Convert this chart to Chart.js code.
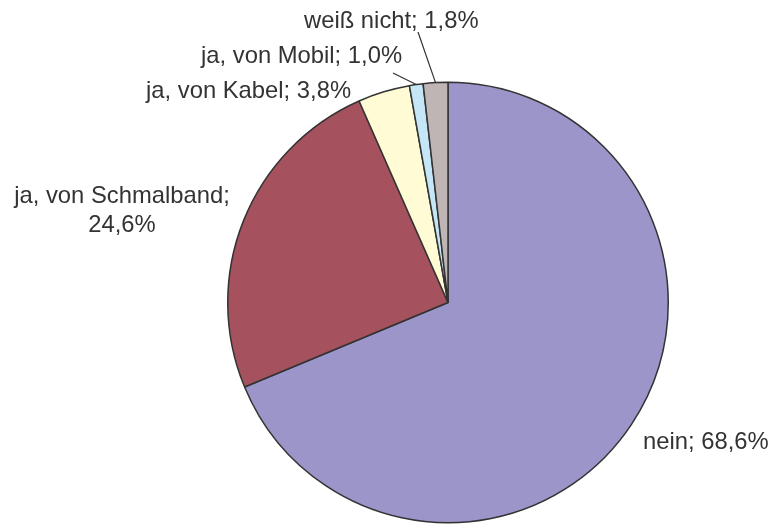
<!DOCTYPE html>
<html>
<head>
<meta charset="utf-8">
<script src="https://cdn.jsdelivr.net/npm/chart.js@4/dist/chart.umd.min.js"></script>
<style>
  html, body { margin:0; padding:0; background:#fff; }
  canvas { display:block; }
</style>
</head>
<body>
<canvas id="pie" width="773" height="527"></canvas>
<script>
// ------------------ DATA ------------------
const labels = ["nein", "ja, von Schmalband", "ja, von Kabel", "ja, von Mobil", "weiß nicht"];
const values = [68.6, 24.6, 3.8, 1.0, 1.8];
const colors = ["#9B95C9", "#A5525E", "#FFFBD4", "#C5E6F7", "#C0B5B5"];

// label text lines + placement (x, baseline y), leader line start if any
const labelLayout = [
    {lines:["nein; 68,6%"], x:643, y:449, align:"left"},
    {lines:["ja, von Schmalband;"  , "24,6%"], x:122, y:203, align:"center", lh:29},
    {lines:["ja, von Kabel; 3,8%"], x:146, y:98, align:"left"},
    {lines:["ja, von Mobil; 1,0%"], x:201, y:63, align:"left", leader:[393,73]},
    {lines:["weiß nicht; 1,8%"], x:304, y:28, align:"left", leader:[418,32]}
];

// ------------------ LABEL PLUGIN ------------------
const pieLabels = {
    id:"pieLabels",
    afterDraw(chart){
        const ctx = chart.ctx;
        const arcs = chart.getDatasetMeta(0).data;
        ctx.save();
        ctx.font = "23.8px 'Liberation Sans', Arial, sans-serif";
        ctx.fillStyle = "#333";
        ctx.strokeStyle = "#333";
        ctx.lineWidth = 1.2;
        ctx.textBaseline = "alphabetic";
        labelLayout.forEach((l, i)=>{
            ctx.textAlign = l.align;
            l.lines.forEach((t, k)=>{
                ctx.fillText(t, l.x, l.y + k*(l.lh||0));
            });
            if(l.leader){
                const a = arcs[i];
                const mid = (a.startAngle + a.endAngle)/2;
                const ex = a.x + Math.cos(mid)*a.outerRadius;
                const ey = a.y + Math.sin(mid)*a.outerRadius;
                ctx.beginPath();
                ctx.moveTo(l.leader[0], l.leader[1]);
                ctx.lineTo(ex, ey);
                ctx.stroke();
            }
        });
        ctx.restore();
    }
};

// ------------------ CHART ------------------
new Chart(document.getElementById("pie").getContext("2d"), {
    type:"pie",
    data:{
        labels:labels,
        datasets:[{data:values, backgroundColor:colors, borderColor:"#333", borderWidth:1.5}]
    },
    options:{
        responsive:false,
        animation:false,
        layout:{padding:{left:227, right:104, top:81, bottom:3}},
        plugins:{legend:{display:false}, tooltip:{enabled:false}}
    },
    plugins:[pieLabels]
});
</script>
</body>
</html>
